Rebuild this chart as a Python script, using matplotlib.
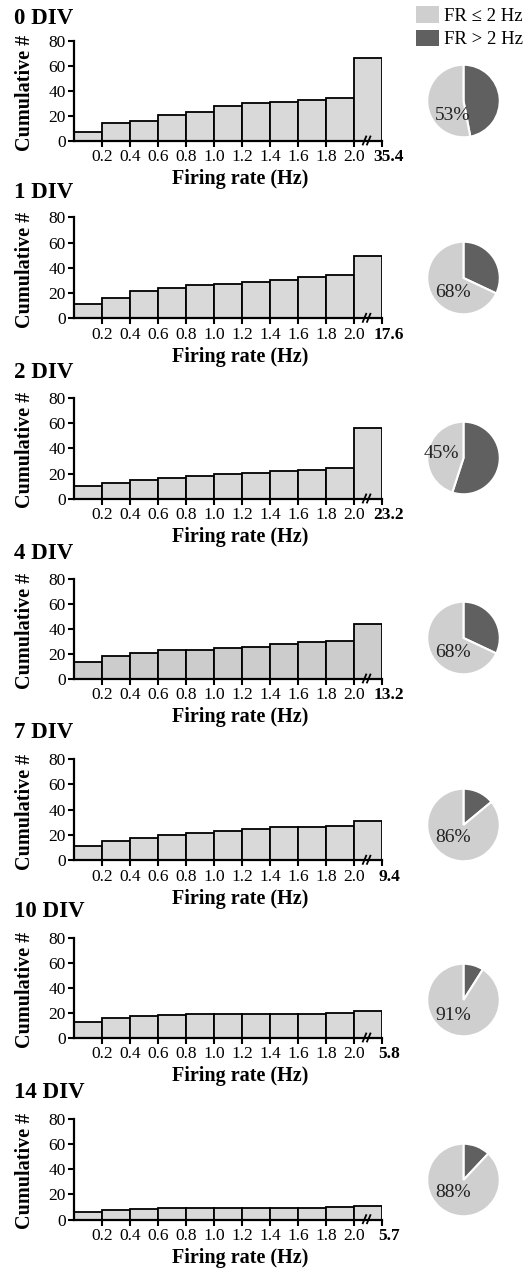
#!/usr/bin/env python
import numpy as np
import matplotlib
matplotlib.use('Agg')
import matplotlib.pyplot as plt
from matplotlib.patches import Patch

plt.rcParams['font.family'] = ['Liberation Serif', 'DejaVu Serif']

# data
panels = ['0 DIV', '1 DIV', '2 DIV', '4 DIV', '7 DIV', '10 DIV', '14 DIV']
max_rate = ['35.4', '17.6', '23.2', '13.2', '9.4', '5.8', '5.7']
cumulative = [
    [7.2, 14.0, 16.2, 20.7, 23.1, 28.2, 30.6, 31.4, 33.0, 34.6, 66.2],
    [11.3, 16.4, 21.9, 24.0, 26.1, 27.4, 28.8, 30.3, 32.5, 34.0, 49.3],
    [10.5, 12.4, 15.3, 16.6, 17.9, 19.7, 20.5, 21.8, 22.9, 24.7, 55.8],
    [13.9, 18.1, 21.0, 23.5, 23.5, 25.1, 25.9, 27.7, 29.3, 30.1, 43.7],
    [11.5, 15.5, 17.6, 19.9, 21.3, 22.8, 24.7, 26.2, 26.2, 27.0, 31.2],
    [12.8, 15.7, 17.6, 18.4, 19.1, 19.1, 19.1, 19.1, 19.1, 20.2, 21.8],
    [6.3, 7.7, 8.7, 9.2, 9.2, 9.2, 9.2, 9.2, 9.2, 10.0, 10.8],
]
pct_low = [53, 68, 45, 68, 86, 91, 88]
bin_edges = [0.0, 0.2, 0.4, 0.6, 0.8, 1.0, 1.2, 1.4, 1.6, 1.8, 2.0, 2.2]
tick_labels = ['0.2', '0.4', '0.6', '0.8', '1.0', '1.2', '1.4', '1.6', '1.8', '2.0']

# layout (pixel positions measured on the reference)
W, H = 526, 1268
ax_top = [40.7, 217.3, 397.7, 579, 758.7, 937.7, 1118.7]
ax_bot = [141, 318.3, 499, 679, 860.3, 1038, 1219.7]
title_y = [18.5, 193, 373, 553.5, 732, 911.5, 1092]
pie_cy = [101, 278, 458, 638, 825, 1000, 1180]
pct_pos = [(-0.3, -0.4), (-0.3, -0.4), (-0.62, 0.13), (-0.3, -0.4),
           (-0.3, -0.35), (-0.27, -0.43), (-0.3, -0.35)]
bar_colors = ['#d9d9d9', '#d9d9d9', '#d9d9d9', '#cccccc', '#d9d9d9', '#d9d9d9', '#d9d9d9']
light, dark = '#cfcfcf', '#606060'

fig = plt.figure(figsize=(W / 100, H / 100), dpi=100)
fig.patch.set_facecolor('white')

x_left, x_right = 74, 382
pie_cx, pie_r = 463.5, 37
tick_len, tick_pad, tick_fs = 4, 2, 12.5

for i, name in enumerate(panels):
    ax = fig.add_axes([x_left / W, 1 - ax_bot[i] / H,
                       (x_right - x_left) / W, (ax_bot[i] - ax_top[i]) / H])
    ax.bar(bin_edges[:-1], cumulative[i], width=0.2, align='edge',
           color=bar_colors[i], edgecolor='black', linewidth=1.3, zorder=2)
    ax.set_xlim(0, 2.2)
    ax.set_ylim(0, 80)
    ax.set_yticks([0, 20, 40, 60, 80])
    ax.set_xticks(bin_edges[1:])
    ax.set_xticklabels(tick_labels + [''])
    # last bin label (max firing rate), bold and nudged right
    ax.annotate(max_rate[i], xy=(2.2, 0), xycoords=('data', 'axes fraction'),
                xytext=(5, -(tick_len + tick_pad)), textcoords='offset points',
                ha='center', va='top', fontsize=tick_fs, fontweight='bold')
    ax.tick_params(axis='both', direction='out', length=tick_len, width=1.5,
                   labelsize=tick_fs, pad=tick_pad)
    for s in ['top', 'right']:
        ax.spines[s].set_visible(False)
    for s in ['left', 'bottom']:
        ax.spines[s].set_linewidth(1.6)
    ax.set_ylabel('Cumulative #', fontsize=14.5, fontweight='bold')
    ax.yaxis.set_label_coords(-0.125, 0.48)
    ax.set_xlabel('Firing rate (Hz)', fontsize=14.5, fontweight='bold')
    ax.xaxis.set_label_coords(0.54, -0.28)
    # axis break marks
    tr = ax.get_xaxis_transform()
    for xb in [2.075, 2.105]:
        ax.plot([xb - 0.012, xb + 0.012], [-0.035, 0.045], color='black',
                lw=1.3, transform=tr, clip_on=False, zorder=5)
    fig.text(14 / W, 1 - title_y[i] / H, name, fontsize=16.5,
             fontweight='bold', va='center', ha='left')

    # pie of FR <= 2 Hz vs FR > 2 Hz
    pax = fig.add_axes([(pie_cx - pie_r) / W, 1 - (pie_cy[i] + pie_r) / H,
                        2 * pie_r / W, 2 * pie_r / H])
    pax.pie([100 - pct_low[i], pct_low[i]], colors=[dark, light], startangle=90,
            counterclock=False, radius=1,
            wedgeprops=dict(edgecolor='white', linewidth=1.5))
    pax.set_xlim(-1.02, 1.02)
    pax.set_ylim(-1.02, 1.02)
    pax.set_aspect('equal')
    pax.text(pct_pos[i][0], pct_pos[i][1], '%d%%' % pct_low[i], fontsize=14,
             ha='center', va='center', color='#222222')

handles = [Patch(facecolor=light, edgecolor='none', label='FR ≤ 2 Hz'),
           Patch(facecolor=dark, edgecolor='none', label='FR > 2 Hz')]
fig.legend(handles=handles, loc='upper left', bbox_to_anchor=(416 / W, 1 - 6 / H),
           frameon=False, fontsize=13.5, handlelength=1.2, handleheight=1.0,
           handletextpad=0.3, labelspacing=0.25, borderpad=0, borderaxespad=0)

fig.savefig('out.png', dpi=100, facecolor='white')
